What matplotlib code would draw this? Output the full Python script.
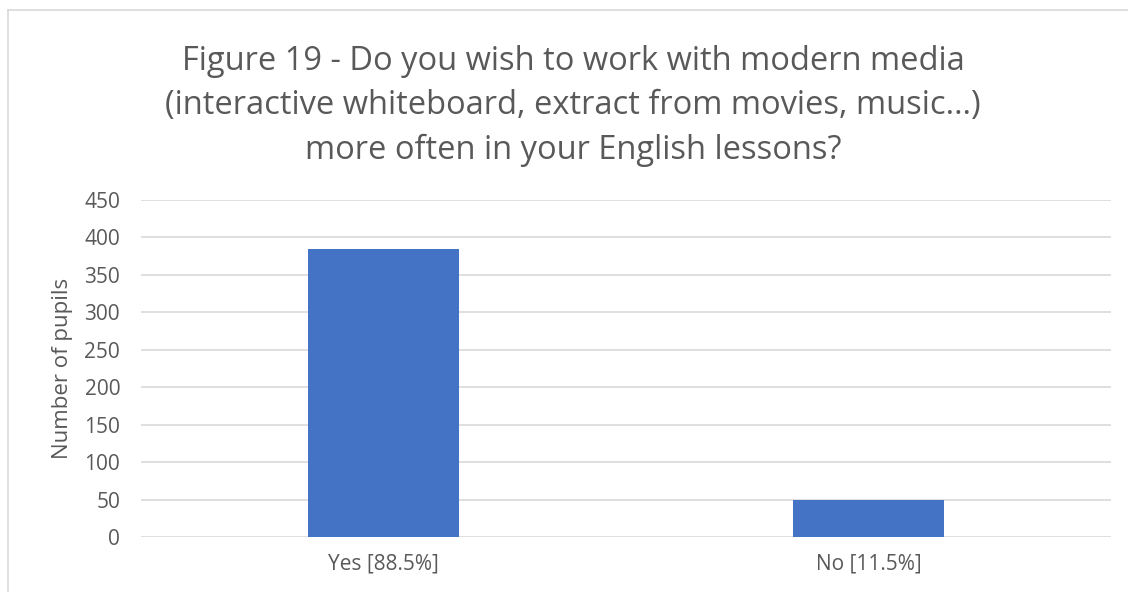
import matplotlib.pyplot as plt
from matplotlib.lines import Line2D

categories = ['Yes [88.5%]', 'No [11.5%]']
pupils = [385, 50]
y_ticks = [0, 50, 100, 150, 200, 250, 300, 350, 400, 450]

title = ('Figure 19 - Do you wish to work with modern media\n'
         '(interactive whiteboard, extract from movies, music…)\n'
         'more often in your English lessons?')

plt.rcParams['font.family'] = ['Open Sans', 'DejaVu Sans']
grey = '#595959'

fig = plt.figure(figsize=(11.28, 5.92), dpi=100)
ax = fig.add_axes([141 / 1128, 1 - 537 / 592, 970 / 1128, 337 / 592])

x = range(len(categories))
ax.bar(x, pupils, width=0.313, color='#4472C4', zorder=3)

ax.set_xlim(-0.5, len(categories) - 0.5)
ax.set_ylim(0, 450)
ax.set_yticks(y_ticks)
ax.set_xticks(list(x))
ax.set_xticklabels(categories)
ax.tick_params(axis='both', length=0, colors=grey, labelsize=15)
ax.tick_params(axis='x', pad=12)
ax.tick_params(axis='y', pad=15)
ax.yaxis.grid(True, color='#d9d9d9', linewidth=1.2, zorder=0)
for s in ax.spines.values():
    s.set_visible(False)
ax.set_ylabel('Number of pupils', color=grey, fontsize=16, labelpad=8)

fig.text(573 / 1128, 1 - 106 / 592, title, ha='center', va='center',
         fontsize=23.5, color=grey, linespacing=1.45)

# chart border (top and left edges)
fig.add_artist(Line2D([8 / 1128, 8 / 1128], [0, 1 - 10 / 592],
                      color='#d9d9d9', linewidth=1.2))
fig.add_artist(Line2D([8 / 1128, 1], [1 - 10 / 592, 1 - 10 / 592],
                      color='#d9d9d9', linewidth=1.2))

fig.savefig('out.png', dpi=100)
